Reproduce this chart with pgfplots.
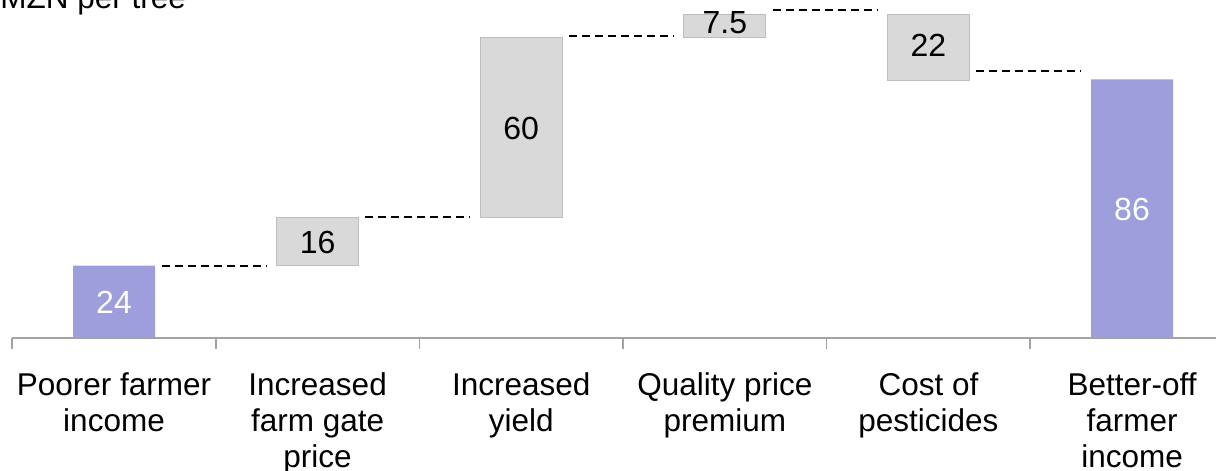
\documentclass[border=0pt]{standalone}
\usepackage{fontspec}
\setmainfont{Liberation Sans}
\usepackage{pgfplots}
\pgfplotsset{compat=1.18}
\definecolor{barpurple}{HTML}{9E9EDD}
\definecolor{boxgray}{HTML}{D9D9D9}
\definecolor{boxedge}{HTML}{BDBDBD}
\definecolor{axisgray}{HTML}{A3A3A3}
\begin{document}
\begin{tikzpicture}
\pgfplotsset{
  wf/.style={scale only axis, width=608pt, height=235.5pt,
    xmin=-0.56, xmax=5.4125, ymin=-44.43, ymax=112.43,
    axis lines=none, clip=false},
  cn/.style={black, line width=1pt, dash pattern=on 4pt off 2.5pt}
}
\tikzset{
  catlab/.style={anchor=north, align=center, inner sep=0pt, font=\fontsize{15.75}{18}\selectfont},
  tk/.style={axisgray, line width=0.8pt}
}
% bars
\begin{axis}[wf, ybar stacked, bar width=41pt]
\addplot[draw=none, fill=none] coordinates {(0,0)(1,24)(2,40)(3,100)(4,85.5)(5,0)};
\addplot[fill=boxgray, draw=boxedge, line width=0.6pt] coordinates {(0,0)(1,16)(2,60)(3,7.5)(4,22)(5,0)};
\addplot[fill=barpurple, draw=none] coordinates {(0,24)(1,0)(2,0)(3,0)(4,0)(5,86)};
\end{axis}
% connectors, labels, axis
\begin{axis}[wf]
\addplot[cn] coordinates {(0.235,24)(0.75,24)};
\addplot[cn] coordinates {(1.235,40.3)(1.75,40.3)};
\addplot[cn] coordinates {(2.235,100.6)(2.75,100.6)};
\addplot[cn] coordinates {(3.235,109.2)(3.75,109.2)};
\addplot[cn] coordinates {(4.235,88.8)(4.75,88.8)};
% value labels
\addplot[only marks, mark=none, nodes near coords, point meta=explicit symbolic,
  nodes near coords align={center}, every node near coord/.append style={font=\fontsize{16}{19}\selectfont, text=black, inner sep=0pt, anchor=center}]
  table[meta=lbl] {
x y lbl
1 31.8 16
2 69.5 60
3 105 7.5
4 97.3 22
};
\addplot[only marks, mark=none, nodes near coords, point meta=explicit symbolic,
  nodes near coords align={center}, every node near coord/.append style={font=\fontsize{16}{19}\selectfont, text=white, inner sep=0pt, anchor=center}]
  table[meta=lbl] {
x y lbl
0 11.8 24
5 42.5 86
};
% axis line and ticks
\draw[axisgray, line width=1pt] (axis cs:-0.5,0) -- (axis cs:5.6,0);
\draw[tk] (axis cs:-0.5,0) -- (axis cs:-0.5,-3.7);
\draw[tk] (axis cs:0.5,0) -- (axis cs:0.5,-3.7);
\draw[tk] (axis cs:1.5,0) -- (axis cs:1.5,-3.7);
\draw[tk] (axis cs:2.5,0) -- (axis cs:2.5,-3.7);
\draw[tk] (axis cs:3.5,0) -- (axis cs:3.5,-3.7);
\draw[tk] (axis cs:4.5,0) -- (axis cs:4.5,-3.7);
% category labels
\node[catlab] at (axis cs:0,-11.7) {Poorer farmer\\income};
\node[catlab] at (axis cs:1,-11.7) {Increased\\farm gate\\price};
\node[catlab] at (axis cs:2,-11.7) {Increased\\yield};
\node[catlab] at (axis cs:3,-11.7) {Quality price\\premium};
\node[catlab] at (axis cs:4,-11.7) {Cost of\\pesticides};
\node[catlab] at (axis cs:5,-11.7) {Better-off\\farmer\\income};
\node[anchor=base west, inner sep=0pt, font=\fontsize{15.75}{18}\selectfont] at (axis cs:-0.56,109.6) {MZN per tree};
\end{axis}
\pgfresetboundingbox
\path (current axis.south west) rectangle (current axis.north east);
\end{tikzpicture}
\end{document}
